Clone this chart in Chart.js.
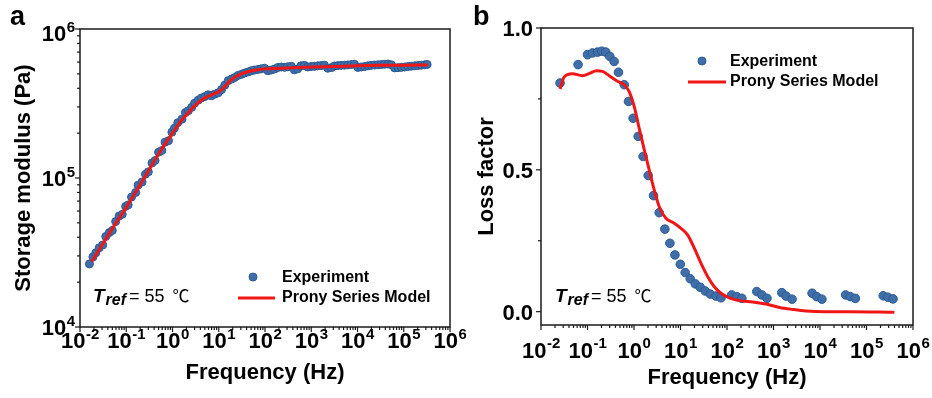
<!DOCTYPE html>
<html>
<head>
<meta charset="utf-8">
<script src="https://cdn.jsdelivr.net/npm/chart.js@4.4.1/dist/chart.umd.min.js"></script>
<style>
  body { margin: 0; background: #fff; width: 932px; height: 398px; overflow: hidden; position: relative; }
  .panel { position: absolute; top: 0; width: 466px; height: 398px; }
</style>
</head>
<body>
<div class="panel" style="left:0"><canvas id="chartA" width="466" height="398"></canvas></div>
<div class="panel" style="left:466px"><canvas id="chartB" width="466" height="398"></canvas></div>
<script>
// panel a: storage modulus (Pa) vs frequency (Hz)
var freqA = [0.016, 0.019, 0.022, 0.026, 0.031, 0.036, 0.043, 0.05, 0.059, 0.07, 0.082, 0.097,
  0.11, 0.13, 0.16, 0.18, 0.22, 0.26, 0.3, 0.36, 0.42, 0.5, 0.59, 0.69, 0.82, 0.97,
  1.1, 1.3, 1.6, 1.9, 2.2, 2.6, 3.0, 3.6, 4.2, 5.0, 5.9, 6.9, 8.2, 9.7,
  11.5, 13.5, 16, 19, 22, 26, 31, 36, 43, 50, 59, 70, 82, 97,
  115, 135, 160, 190, 225, 265, 310, 370, 430, 510, 600, 710, 840, 990,
  1170, 1380, 1630, 1930, 2280, 2690, 3180, 3750, 4430, 5230, 6180, 7300, 8620,
  10200, 12000, 14200, 16800, 19800, 23400, 27700, 32700, 38600, 45600, 53900,
  63700, 75200, 88800, 105000, 124000, 146000, 173000, 204000, 241000, 285000, 320000];
var storageExp = [26500, 29500, 31500, 34000, 35500, 40500, 43000, 44500, 51000, 55500, 57000, 64500,
  66000, 74500, 80000, 89500, 94000, 106000, 110000, 126000, 131000, 149000, 153000, 174000, 178000, 203000,
  216000, 235000, 248000, 275000, 283000, 298000, 318000, 333000, 344000, 352000, 362000, 356000, 365000, 373000,
  392000, 420000, 450000, 462000, 472000, 488000, 496000, 506000, 515000, 524000, 530000, 535000, 540000, 546000,
  525000, 530000, 538000, 552000, 556000, 553000, 558000, 562000, 532000, 540000, 566000, 570000, 556000, 560000,
  562000, 566000, 568000, 572000, 545000, 550000, 565000, 568000, 570000, 572000, 574000, 577000, 580000,
  552000, 556000, 560000, 566000, 570000, 573000, 575000, 577000, 580000, 582000, 575000,
  548000, 550000, 553000, 556000, 560000, 563000, 566000, 569000, 572000, 575000, 578000];
var freqModelA = [0.018, 0.03, 0.05, 0.1, 0.2, 0.5, 1.0, 1.5, 2, 3, 5, 8, 10, 13, 17, 25, 40, 70,
  100, 300, 1000, 3000, 10000, 30000, 100000, 330000];
var storageModel = [27500, 35500, 45700, 63500, 90000, 145000, 200000, 240000, 265000, 305000, 345000,
  368000, 380000, 405000, 445000, 485000, 515000, 533000, 540000, 548000, 555000, 560000, 566000,
  570000, 572000, 573000];

// panel b: loss factor vs frequency (Hz)
var freqB = [0.0257, 0.0627, 0.1, 0.128, 0.164, 0.203, 0.247, 0.302, 0.374, 0.463, 0.617, 0.762, 0.959,
  1.23, 1.57, 2.02, 2.63, 3.48, 4.61, 5.92, 7.59, 9.89, 12.6, 16.2, 20.8, 26.6, 34.1, 43.7, 57.9, 74.3,
  126, 162, 209, 437, 562, 724, 1510, 1860, 2510, 6760, 8510, 11000,
  35500, 44700, 57500, 229000, 288000, 372000];
var lossExp = [0.806, 0.871, 0.906, 0.912, 0.915, 0.918, 0.915, 0.90, 0.882, 0.844, 0.80, 0.741, 0.682,
  0.618, 0.547, 0.48, 0.409, 0.349, 0.291, 0.241, 0.20, 0.167, 0.138, 0.116, 0.098, 0.086, 0.073, 0.062, 0.055, 0.049,
  0.059, 0.053, 0.047, 0.071, 0.059, 0.047, 0.067, 0.055, 0.044, 0.065, 0.053, 0.044,
  0.059, 0.053, 0.047, 0.056, 0.051, 0.045];
var freqModelB = [0.0257, 0.0313, 0.0473, 0.0776, 0.108, 0.156, 0.209, 0.292, 0.442, 0.617, 0.787, 1.01,
  1.29, 1.66, 2.12, 2.72, 3.48, 4.85, 7.33, 10.2, 14.2, 19.8, 27.5, 38.3, 53.3, 74.3, 112, 185, 357,
  692, 1350, 2570, 5010, 13500, 43600, 398000];
var lossModel = [0.785, 0.827, 0.839, 0.832, 0.839, 0.849, 0.847, 0.832, 0.812, 0.80, 0.776, 0.724,
  0.647, 0.571, 0.50, 0.429, 0.371, 0.329, 0.312, 0.294, 0.271, 0.224, 0.171, 0.124, 0.088, 0.065, 0.049,
  0.039, 0.034, 0.027, 0.015, 0.008, 0.0024, 0, 0, -0.002];

// tick labels
var freqExps = ['-2', '-1', '0', '1', '2', '3', '4', '5', '6'];
var storageExps = ['4', '5', '6'];
var lossTicks = [0, 0.5, 1.0];
var lossTickLabels = ['0.0', '0.5', '1.0'];

var FONT = "'Liberation Sans', Arial, sans-serif";
var BLUE = '#3f6ea8';
var RED = '#f01616';

function pts(xs, ys) {
  return xs.map(function (x, i) { return { x: x, y: ys[i] }; });
}

function drawPow(ctx, exp, x, base, align) {
  ctx.font = 'bold 22px ' + FONT;
  var w1 = ctx.measureText('10').width;
  ctx.font = 'bold 15px ' + FONT;
  var w2 = ctx.measureText(exp).width;
  var left = align === 'right' ? x - w1 - w2 - 0.5 : x - (w1 + w2) / 2;
  ctx.textAlign = 'left';
  ctx.textBaseline = 'alphabetic';
  ctx.font = 'bold 22px ' + FONT;
  ctx.fillText('10', left, base);
  ctx.font = 'bold 15px ' + FONT;
  ctx.fillText(exp, left + w1 + 0.5, base - 9.5);
}

function seg(ctx, x1, y1, x2, y2) {
  ctx.beginPath(); ctx.moveTo(x1, y1); ctx.lineTo(x2, y2); ctx.stroke();
}

// frame, ticks, tick labels, legend and annotation
var framePlugin = {
  id: 'frame',
  afterDraw: function (chart, args, o) {
    var ctx = chart.ctx, a = chart.chartArea;
    var xs = chart.scales.x, ys = chart.scales.y;
    ctx.save();
    ctx.strokeStyle = '#1a1a1a';
    ctx.fillStyle = '#000';
    ctx.lineWidth = 1.5;
    ctx.strokeRect(a.left, a.top, a.right - a.left, a.bottom - a.top);

    // x ticks (log decades)
    ctx.lineWidth = 1.2;
    for (var i = 0; i < freqExps.length; i++) {
      var d = parseInt(freqExps[i], 10);
      for (var m = 1; m < 10; m++) {
        var v = m * Math.pow(10, d);
        if (v > xs.max * 1.0001) break;
        var px = xs.getPixelForValue(v);
        seg(ctx, px, a.bottom, px, a.bottom + (m === 1 ? 5 : 3));
      }
      drawPow(ctx, freqExps[i], xs.getPixelForValue(Math.pow(10, d)), o.xLabelBase, 'center');
    }

    // y ticks
    if (o.yLog) {
      for (var j = 0; j < storageExps.length; j++) {
        var e = parseInt(storageExps[j], 10);
        for (var k = 1; k < 10; k++) {
          var vv = k * Math.pow(10, e);
          if (vv > ys.max * 1.0001) break;
          var py = ys.getPixelForValue(vv);
          seg(ctx, a.left - (k === 1 ? 5 : 3), py, a.left, py);
        }
        var ty = ys.getPixelForValue(Math.pow(10, e));
        drawPow(ctx, storageExps[j], a.left - 5, Math.max(ty + 8, 41), 'right');
      }
    } else {
      ctx.font = 'bold 22px ' + FONT;
      ctx.textAlign = 'right';
      ctx.textBaseline = 'alphabetic';
      for (var n = 0; n < lossTicks.length; n++) {
        var p = ys.getPixelForValue(lossTicks[n]);
        seg(ctx, a.left - 5, p, a.left, p);
        ctx.fillText(lossTickLabels[n], a.left - 8, p + 8);
        if (n < lossTicks.length - 1) {
          var pm = ys.getPixelForValue((lossTicks[n] + lossTicks[n + 1]) / 2);
          seg(ctx, a.left - 3, pm, a.left, pm);
        }
      }
    }

    // panel letter
    ctx.font = 'bold 27px ' + FONT;
    ctx.textAlign = 'left';
    ctx.fillText(o.letter, o.letterX, 25);

    // legend
    var L = o.legend;
    ctx.beginPath();
    ctx.arc(L.dotX, L.dotY, 4, 0, Math.PI * 2);
    ctx.fillStyle = BLUE; ctx.fill();
    ctx.strokeStyle = '#2d5b93'; ctx.lineWidth = 1; ctx.stroke();
    ctx.strokeStyle = RED; ctx.lineWidth = 3;
    seg(ctx, L.lineX1, L.lineY, L.lineX2, L.lineY);
    ctx.fillStyle = '#000';
    ctx.font = 'bold 16px ' + FONT;
    ctx.textBaseline = 'middle';
    ctx.fillText('Experiment', L.textX, L.dotY + 1);
    ctx.fillText('Prony Series Model', L.textX, L.lineY);

    // T_ref = 55 ℃
    var T = o.tref, x = T.x;
    ctx.textBaseline = 'alphabetic';
    ctx.font = 'italic bold 19px ' + FONT;
    ctx.fillText('T', x, T.base);
    x += ctx.measureText('T').width + 1;
    ctx.font = 'italic bold 16px ' + FONT;
    ctx.fillText('ref', x, T.base + 3);
    x += ctx.measureText('ref').width + 3;
    ctx.font = '18px ' + FONT;
    ctx.fillText('= 55', x, T.base);
    x += ctx.measureText('= 55').width + 8;
    ctx.font = "17px 'Noto Sans CJK SC', 'DejaVu Sans', sans-serif";
    ctx.fillText('\u2103', x, T.base);
    ctx.restore();
  }
};

function titleFont() {
  return { family: FONT, size: 22, weight: 'bold' };
}

function makeChart(id, sets, xCfg, yCfg, pad, frame) {
  return new Chart(document.getElementById(id), {
    type: 'scatter',
    data: { datasets: sets },
    options: {
      responsive: false,
      animation: false,
      layout: { padding: pad },
      plugins: { legend: { display: false }, tooltip: { enabled: false }, frame: frame },
      scales: {
        x: {
          type: 'logarithmic', min: 0.01, max: 1e6,
          ticks: { display: false }, grid: { display: false }, border: { display: false },
          title: { display: true, text: 'Frequency (Hz)', color: '#000', font: titleFont(),
            padding: { top: 0, bottom: xCfg.titlePad } },
          afterFit: function (s) { s.height = xCfg.height; }
        },
        y: {
          type: yCfg.type, min: yCfg.min, max: yCfg.max,
          ticks: { display: false }, grid: { display: false }, border: { display: false },
          title: { display: true, text: yCfg.title, color: '#000', font: titleFont(),
            padding: { top: yCfg.titlePad, bottom: 0 } },
          afterFit: function (s) { s.width = yCfg.width; }
        }
      }
    },
    plugins: [framePlugin]
  });
}

var chartA = makeChart('chartA', [
  { data: pts(freqModelA, storageModel), showLine: true, pointRadius: 0, borderColor: RED,
    borderWidth: 3, cubicInterpolationMode: 'monotone' },
  { data: pts(freqA, storageExp), pointRadius: 4, pointBackgroundColor: BLUE,
    pointBorderColor: '#2d5b93', pointBorderWidth: 1 }
], { height: 71, titlePad: 12 },
   { type: 'logarithmic', min: 1e4, max: 1e6, title: 'Storage modulus (Pa)', width: 80, titlePad: 11 },
   { left: 0, right: 16, top: 29, bottom: 0 },
   { letter: 'a', letterX: 10, xLabelBase: 348, yLog: true,
     legend: { dotX: 253, dotY: 277, textX: 282, lineX1: 238, lineX2: 275, lineY: 298 },
     tref: { x: 93, base: 302 } });

var chartB = makeChart('chartB', [
  { data: pts(freqModelB, lossModel), showLine: true, pointRadius: 0, borderColor: RED,
    borderWidth: 3, cubicInterpolationMode: 'monotone' },
  { data: pts(freqB, lossExp), pointRadius: 4.3, pointBackgroundColor: BLUE,
    pointBorderColor: '#2d5b93', pointBorderWidth: 1 }
], { height: 73, titlePad: 7 },
   { type: 'linear', min: -0.047, max: 1.0, title: 'Loss factor', width: 75, titlePad: 8 },
   { left: 0, right: 19, top: 28, bottom: 0 },
   { letter: 'b', letterX: 7, xLabelBase: 357.5, yLog: false,
     legend: { dotX: 236, dotY: 61, textX: 264, lineX1: 222, lineX2: 260, lineY: 82 },
     tref: { x: 89, base: 302 } });
</script>
</body>
</html>
